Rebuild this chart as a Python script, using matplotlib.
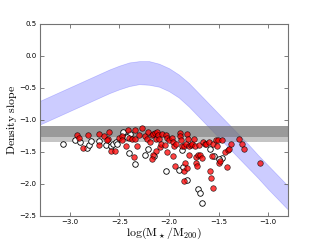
import matplotlib
matplotlib.use('Agg')
import matplotlib.pyplot as plt
import numpy as np

# blue band (upper / lower edge)
band_x = [-3.3, -3.2, -3.1, -3.0, -2.9, -2.8, -2.7, -2.6, -2.5, -2.4, -2.3, -2.2,
          -2.1, -2.0, -1.9, -1.8, -1.7, -1.6, -1.5, -1.4, -1.3, -1.2, -1.1, -1.0,
          -0.9, -0.8]
band_hi = [-0.70, -0.63, -0.56, -0.49, -0.42, -0.35, -0.28, -0.21, -0.15, -0.10,
           -0.08, -0.08, -0.12, -0.19, -0.29, -0.42, -0.58, -0.74, -0.90, -1.06,
           -1.22, -1.38, -1.55, -1.71, -1.87, -2.03]
band_lo = [-1.07, -1.00, -0.93, -0.86, -0.79, -0.72, -0.65, -0.58, -0.52, -0.47,
           -0.44, -0.45, -0.48, -0.55, -0.65, -0.79, -0.95, -1.11, -1.27, -1.43,
           -1.59, -1.75, -1.91, -2.08, -2.24, -2.40]

# grey horizontal bands
grey_outer = (-1.34, -1.10)
grey_inner = (-1.27, -1.10)

# filled (red) points
red_x = [-2.93, -2.91, -2.87, -2.82, -2.71, -2.71, -2.65, -2.61, -2.60, -2.58,
         -2.54, -2.62, -2.50, -2.47, -2.47, -2.43, -2.41, -2.40, -2.34, -2.35,
         -2.37, -2.34, -2.32, -2.30, -2.27, -2.24, -2.22, -2.21, -2.19, -2.17,
         -2.16, -2.14, -2.13, -2.12, -2.11, -2.10, -2.09, -2.13, -2.16, -2.17,
         -2.08, -2.07, -2.04, -2.03, -2.02, -2.02, -2.00, -1.97, -1.96, -1.96,
         -1.95, -1.93, -1.94, -1.89, -1.89, -1.88, -1.87, -1.85, -1.83, -1.82,
         -1.81, -1.80, -1.80, -1.78, -1.84, -1.85, -1.82, -1.85, -1.77, -1.75,
         -1.74, -1.73, -1.73, -1.71, -1.70, -1.72, -1.69, -1.67, -1.66, -1.64,
         -1.63, -1.60, -1.59, -1.58, -1.56, -1.57, -1.56, -1.53, -1.52, -1.51,
         -1.50, -1.49, -1.47, -1.44, -1.41, -1.40, -1.39, -1.37, -1.29, -1.26,
         -1.24, -1.08]
red_y = [-1.23, -1.28, -1.43, -1.24, -1.22, -1.39, -1.25, -1.30, -1.19, -1.48,
         -1.48, -1.32, -1.28, -1.25, -1.31, -1.41, -1.16, -1.28, -1.15, -1.58,
         -1.29, -1.29, -1.41, -1.24, -1.12, -1.25, -1.29, -1.19, -1.34, -1.24,
         -1.22, -1.20, -1.29, -1.19, -1.24, -1.30, -1.42, -1.48, -1.55, -1.61,
         -1.37, -1.22, -1.39, -1.23, -1.28, -1.50, -1.31, -1.28, -1.56, -1.35,
         -1.41, -1.38, -1.72, -1.20, -1.25, -1.31, -1.40, -1.41, -1.38, -1.22,
         -1.29, -1.54, -1.41, -1.39, -1.67, -1.79, -1.75, -1.96, -1.38, -1.29,
         -1.41, -1.58, -1.67, -1.54, -1.39, -1.72, -1.55, -1.59, -1.35, -1.37,
         -1.38, -1.35, -1.79, -1.90, -2.06, -1.56, -1.38, -1.31, -1.40, -1.32,
         -1.67, -1.64, -1.31, -1.50, -1.73, -1.47, -1.45, -1.37, -1.29, -1.37,
         -1.46, -1.67]

# open points
open_x = [-3.07, -2.95, -2.90, -2.83, -2.81, -2.79, -2.71, -2.63, -2.58, -2.56,
          -2.53, -2.52, -2.46, -2.40, -2.39, -2.34, -2.24, -2.21, -2.15, -2.03,
          -1.87, -1.90, -1.86, -1.82, -1.71, -1.69, -1.67, -1.59, -1.55, -1.47,
          -2.42, -1.50]
open_y = [-1.37, -1.31, -1.35, -1.43, -1.39, -1.33, -1.33, -1.39, -1.41, -1.37,
          -1.35, -1.37, -1.18, -1.51, -1.22, -1.69, -1.55, -1.46, -1.56, -1.80,
          -1.47, -1.78, -1.73, -1.94, -2.08, -2.14, -2.29, -1.45, -1.57, -1.60,
          -1.27, -1.61]

plt.rcParams['mathtext.fontset'] = 'cm'

fig = plt.figure(figsize=(3.2, 2.4), dpi=100)
ax = fig.add_axes([0.125, 0.1, 0.775, 0.8])

ax.fill_between(band_x, band_lo, band_hi, color='blue', alpha=0.2, linewidth=0.5)
ax.axhspan(grey_outer[0], grey_outer[1], color='0.5', alpha=0.45, lw=0)
ax.axhspan(grey_inner[0], grey_inner[1], color='0.4', alpha=0.45, lw=0)

ax.scatter(open_x, open_y, s=16, facecolors='white', edgecolors='black', linewidths=0.6, zorder=3)
ax.scatter(red_x, red_y, s=16, facecolors='red', edgecolors='black', linewidths=0.5,
           alpha=0.75, zorder=4)

ax.set_xlim(-3.3, -0.8)
ax.set_ylim(-2.5, 0.5)
ax.set_xticks([-3.0, -2.5, -2.0, -1.5, -1.0])
ax.set_yticks([-2.5, -2.0, -1.5, -1.0, -0.5, 0.0, 0.5])
ax.tick_params(direction='in', top=True, right=True, labelsize=5, length=3,
               width=0.6, color='0.4', pad=2.5)
for sp in ax.spines.values():
    sp.set_color('0.45')
    sp.set_linewidth(0.8)

ax.set_ylabel(r'$\mathrm{Density\ slope}$', fontsize=8.5)
ax.set_xlabel(r'$\mathrm{log(M_\star/M_{200})}$', fontsize=8.5)
ax.yaxis.set_label_coords(-0.113, 0.5)
ax.yaxis.label.set_va('center')
ax.xaxis.set_label_coords(0.5, -0.09)
ax.xaxis.label.set_va('center')

fig.savefig('out.png', dpi=100)
